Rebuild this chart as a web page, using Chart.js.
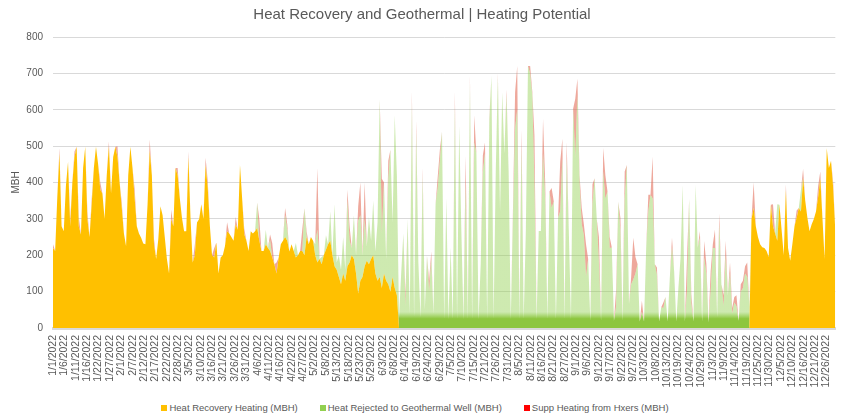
<!DOCTYPE html>
<html>
<head>
<meta charset="utf-8">
<script src="https://cdn.jsdelivr.net/npm/chart.js@4.4.1/dist/chart.umd.min.js"></script>
<style>
  html, body { margin: 0; padding: 0; background: #fff; }
  #chart-box { position: relative; width: 846px; height: 398px; }
  #legend-container {
    width: 830px; padding-right: 16px; height: 19px; text-align: center;
    font: 9.5px "Liberation Sans", Arial, sans-serif; color: #595959; white-space: nowrap;
  }
  #legend-container .item { display: inline-block; margin: 0 11px; line-height: 19px; }
  #legend-container .sw { display: inline-block; width: 6px; height: 6px; margin-right: 2px; vertical-align: 0px; }
</style>
</head>
<body>
<div id="chart-box"><canvas id="myChart"></canvas></div>
<div id="legend-container"></div>
<script>
const tickLabels = ['1/1/2022','1/6/2022','1/11/2022','1/16/2022','1/22/2022','1/27/2022','2/1/2022','2/7/2022','2/12/2022','2/17/2022','2/22/2022','2/28/2022',
  '3/5/2022','3/10/2022','3/16/2022','3/21/2022','3/26/2022','3/31/2022','4/6/2022','4/11/2022','4/16/2022','4/22/2022','4/27/2022',
  '5/2/2022','5/8/2022','5/13/2022','5/18/2022','5/23/2022','5/29/2022','6/3/2022','6/8/2022','6/14/2022','6/19/2022','6/24/2022','6/29/2022',
  '7/5/2022','7/10/2022','7/15/2022','7/21/2022','7/26/2022','7/31/2022','8/5/2022','8/11/2022','8/16/2022','8/21/2022','8/27/2022',
  '9/1/2022','9/6/2022','9/12/2022','9/17/2022','9/22/2022','9/27/2022','10/3/2022','10/8/2022','10/13/2022','10/19/2022','10/24/2022','10/29/2022',
  '11/3/2022','11/9/2022','11/14/2022','11/19/2022','11/25/2022','11/30/2022','12/5/2022','12/10/2022','12/16/2022','12/21/2022','12/26/2022'];

const seriesNames = ['Heat Recovery Heating (MBH)', 'Heat Rejected to Geothermal Well (MBH)', 'Supp Heating from Hxers (MBH)'];

// one value per day, Jan 1 .. Dec 31
const heatRecovery = [
  220,212,360,480,280,266,390,457,280,400,470,498,280,257,440,498,300,250,340,440,498,450,380,370,300,420,498,370,470,498,470, // jan
  400,330,260,225,420,498,440,357,280,260,248,232,230,340,488,420,230,190,245,335,310,250,190,150,300,280,440,420, // feb
  357,303,266,266,470,300,180,200,290,300,340,300,448,385,280,200,194,235,150,194,200,225,266,260,250,240,285,270,448,357,257, // mar
  240,212,266,260,266,275,240,212,212,230,220,212,194,175,150,194,230,240,250,240,210,230,212,194,200,212,212,200,250,230, // apr
  250,240,200,180,190,175,200,215,230,240,200,170,160,140,120,150,130,170,180,200,190,150,95,130,140,170,185,175,190,200,150, // may
  130,140,110,150,130,120,100,140,110,90,0,0,0,0,0,0,0,0,0,0,0,0,0,0,0,0,0,0,0,0, // jun
  0,0,0,0,0,0,0,0,0,0,0,0,0,0,0,0,0,0,0,0,0,0,0,0,0,0,0,0,0,0,0, // jul
  0,0,0,0,0,0,0,0,0,0,0,0,0,0,0,0,0,0,0,0,0,0,0,0,0,0,0,0,0,0,0, // aug
  0,0,0,0,0,0,0,0,0,0,0,0,0,0,0,0,0,0,0,0,0,0,0,0,0,0,0,0,0,0, // sep
  0,0,0,0,0,0,0,0,0,0,0,0,0,0,0,0,0,0,0,0,0,0,0,0,0,0,0,0,0,0,0, // oct
  0,0,0,0,0,0,0,0,0,0,0,0,0,0,0,0,0,0,0,0,0,300,330,280,250,230,222,220,212,195, // nov
  339,280,260,240,339,270,200,380,220,185,230,280,303,330,320,412,350,303,266,285,300,320,360,410,303,190,494,440,460,385,266 // dec
];

const geoRejected = [
  0,0,0,0,0,0,0,0,0,0,0,0,0,0,0,0,0,0,0,0,0,0,0,0,0,0,0,0,0,0,0, // jan
  0,0,0,0,0,0,0,0,0,0,0,0,0,0,0,0,0,0,0,0,0,0,0,0,0,0,0,0, // feb
  0,0,0,0,0,0,0,0,0,0,0,0,0,0,0,0,0,0,0,0,0,0,0,0,0,0,0,0,0,0,0, // mar
  0,0,0,0,0,70,0,0,0,40,0,30,0,0,0,0,0,0,60,30,0,0,0,40,0,0,0,130,0,0, // apr
  0,0,30,90,0,20,0,40,0,80,0,170,20,60,40,100,30,180,60,20,120,50,200,180,60,130,40,130,50,150,60, // may
  160,490,150,250,60,290,390,150,475,330,30,150,260,60,300,40,620,30,540,180,30,420,50,200,100,190,40,340,385,460, // jun
  540,25,357,25,221,25,610,25,557,267,25,394,25,675,25,510,480,25,175,430,480,25,566,694,25,430,690,320,648,480,640, // jul
  430,25,303,548,600,25,500,25,267,720,700,640,394,25,267,267,480,357,25,375,330,348,25,303,321,466,25,466,267,25,603, // aug
  470,640,400,285,255,140,190,20,340,412,300,180,20,430,355,375,220,221,20,60,347,267,20,357,448,66,120,133,150,175, // sep
  18,45,18,221,321,366,356,175,146,18,57,55,85,18,140,223,157,18,112,194,394,18,104,357,67,18,394,221,248,18,194, // oct
  148,15,102,220,220,30,285,120,60,200,90,150,40,70,60,20,100,110,150,140,60,0,0,0,0,0,0,0,0,0, // nov
  0,0,0,100,0,0,0,0,0,0,0,0,0,0,60,0,0,0,0,0,0,0,0,0,0,0,0,0,0,0,0 // dec
];

const suppHeating = [
  10,0,0,15,0,0,0,0,20,0,15,0,25,0,0,0,20,0,15,0,0,0,20,0,0,0,15,0,0,0,30, // jan
  0,15,0,0,0,0,0,25,0,0,0,0,0,0,30,0,15,0,0,0,0,0,0,0,25,0,0,20, // feb
  0,0,0,0,15,0,0,30,0,0,0,0,20,20,0,0,25,0,0,0,0,0,25,0,0,0,20,0,0,0,15, // mar
  0,0,0,0,0,0,60,0,0,0,0,15,40,0,30,0,0,0,20,15,0,0,0,0,0,0,60,0,15,0, // apr
  0,0,0,170,0,0,0,0,0,0,0,0,0,0,0,0,0,30,40,0,0,0,40,90,0,100,0,0,0,0,0, // may
  0,0,150,0,0,50,0,0,0,0,0,0,0,30,0,0,30,0,30,0,0,20,0,0,30,20,0,0,30,30, // jun
  0,0,0,0,0,0,40,0,0,0,0,80,0,20,0,75,0,0,0,45,30,0,10,0,0,0,10,0,0,0,15, // jul
  0,0,20,100,120,0,45,0,0,0,20,10,136,0,0,0,95,46,0,0,55,0,0,0,136,54,0,45,0,0,0, // aug
  160,45,20,45,30,90,0,0,55,0,0,70,0,65,65,0,30,0,0,45,0,36,0,73,0,0,20,115,45,0, // sep
  0,30,0,0,45,0,115,0,20,0,0,15,0,0,0,25,0,0,0,0,0,0,90,0,27,0,0,0,18,0,45, // oct
  27,0,55,10,50,0,30,0,30,40,0,30,15,15,30,0,20,20,20,40,0,0,70,0,0,0,0,0,0,0, // nov
  0,60,0,0,0,0,0,15,0,0,0,0,20,0,0,25,0,0,0,0,0,0,30,20,0,0,0,0,0,15,0 // dec
];

const tickStep = 127 / 24; // axis labels every 127 hours
const legendColors = ['#FFC000', '#92D050', '#FF0000'];

function toPoints(arr) {
  return arr.map((v, i) => ({ x: i, y: v }));
}

// solid band at the bottom, thin spikes look paler
function greenFill(context) {
  const chart = context.chart;
  if (!chart.chartArea) return 'rgba(146,208,80,0.45)';
  const y = chart.scales.y;
  const y0 = y.getPixelForValue(0), y1 = y.getPixelForValue(800);
  const g = chart.ctx.createLinearGradient(0, y0, 0, y1);
  g.addColorStop(0, '#8DC63F');
  g.addColorStop(0.032, '#8DC63F');
  g.addColorStop(0.055, 'rgba(146,208,80,0.45)');
  g.addColorStop(1, 'rgba(146,208,80,0.45)');
  return g;
}

const htmlLegendPlugin = {
  id: 'htmlLegend',
  afterUpdate(chart) {
    const box = document.getElementById('legend-container');
    box.innerHTML = '';
    chart.data.datasets.forEach((ds, i) => {
      const item = document.createElement('span');
      item.className = 'item';
      const sw = document.createElement('span');
      sw.className = 'sw';
      sw.style.background = legendColors[i];
      item.appendChild(sw);
      item.appendChild(document.createTextNode(ds.label));
      box.appendChild(item);
    });
  }
};

new Chart('myChart', {
  type: 'line',
  data: {
    datasets: [{
      label: seriesNames[0],
      data: toPoints(heatRecovery),
      backgroundColor: '#FFC000',
      borderWidth: 0,
      pointRadius: 0,
      fill: 'origin',
      lineTension: 0
    }, {
      label: seriesNames[1],
      data: toPoints(geoRejected),
      backgroundColor: greenFill,
      borderWidth: 0,
      pointRadius: 0,
      fill: '-1',
      lineTension: 0
    }, {
      label: seriesNames[2],
      data: toPoints(suppHeating),
      backgroundColor: 'rgba(226,110,90,0.6)',
      borderWidth: 0,
      pointRadius: 0,
      fill: '-1',
      lineTension: 0
    }]
  },
  plugins: [htmlLegendPlugin],
  options: {
    responsive: true,
    maintainAspectRatio: false,
    animation: false,
    layout: { padding: { left: 0, right: 2, top: 0, bottom: 0 } },
    plugins: {
      tooltip: { enabled: false },
      legend: { display: false },
      title: {
        display: true,
        text: 'Heat Recovery and Geothermal | Heating Potential',
        color: '#595959',
        font: { family: '"Liberation Sans", Arial, sans-serif', size: 15, weight: 'normal' },
        padding: { top: 6, bottom: 13 }
      }
    },
    scales: {
      x: {
        type: 'linear',
        min: 0,
        max: 364,
        grid: { display: false, drawTicks: false },
        border: { display: true, color: '#d9d9d9', width: 3 },
        afterBuildTicks: (scale) => {
          scale.ticks = tickLabels.map((_, i) => ({ value: i * tickStep }));
        },
        afterFit: (scale) => { scale.height = 70; },
        ticks: {
          autoSkip: false,
          minRotation: 90,
          maxRotation: 90,
          padding: 7,
          color: '#595959',
          font: { family: '"Liberation Sans", Arial, sans-serif', size: 10.5 },
          callback: (value, index) => tickLabels[index]
        }
      },
      y: {
        stacked: true,
        min: 0,
        max: 800,
        afterFit: (scale) => { scale.width = 53; },
        grid: { color: '#d9d9d9', drawTicks: false },
        border: { display: false },
        ticks: {
          stepSize: 100,
          padding: 10,
          color: '#595959',
          font: { family: '"Liberation Sans", Arial, sans-serif', size: 10 }
        },
        title: {
          display: true,
          text: 'MBH',
          color: '#595959',
          padding: { top: 10, bottom: 0 },
          font: { family: '"Liberation Sans", Arial, sans-serif', size: 10 }
        }
      }
    }
  }
});
</script>
</body>
</html>
